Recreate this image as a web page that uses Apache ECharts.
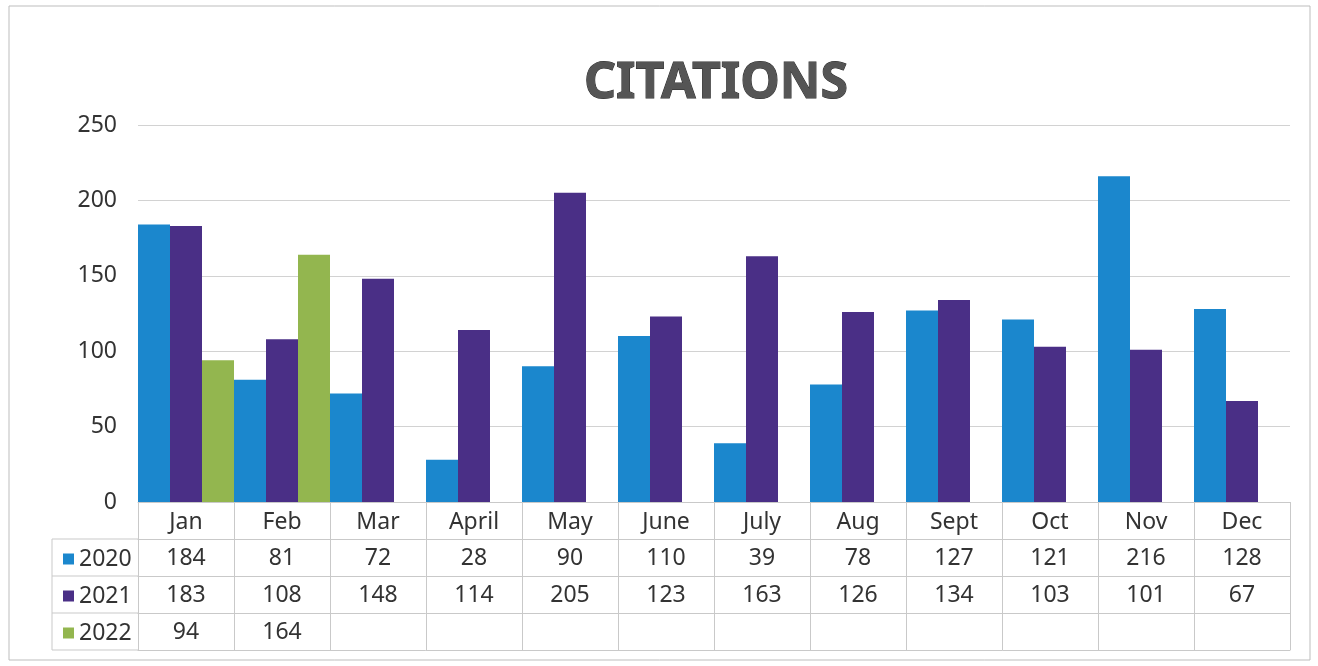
<!DOCTYPE html>
<html>
<head>
<meta charset="utf-8">
<script src="https://cdn.jsdelivr.net/npm/echarts@6/dist/echarts.min.js"></script>
<style>
  html, body { margin: 0; padding: 0; background: #ffffff; }
  #chart { width: 1318px; height: 666px; }
</style>
</head>
<body>
<div id="chart"></div>
<script>
// Monthly citation counts by year
const months = ['Jan', 'Feb', 'Mar', 'April', 'May', 'June', 'July', 'Aug', 'Sept', 'Oct', 'Nov', 'Dec'];
const years = ['2020', '2021', '2022'];
const v2020 = [184, 81, 72, 28, 90, 110, 39, 78, 127, 121, 216, 128];
const v2021 = [183, 108, 148, 114, 205, 123, 163, 126, 134, 103, 101, 67];
const v2022 = [94, 164, null, null, null, null, null, null, null, null, null, null];
const yMin = 0, yMax = 250, yStep = 50;

const colors = ['#1b87cd', '#4a2f86', '#93b64f'];
const seriesValues = [v2020, v2021, v2022];

const FONT = '"Noto Sans", sans-serif';
const TEXT = '#333333';
const LINE = '#c9c9c9';
const ROW = 37;          // data-table row height
const BASE_Y = 502;      // y of the category axis

// one category axis per data-table row: month names, then each year's values
function rowAxis(labels, offset, showTicks, margin) {
  return {
    type: 'category',
    position: 'bottom',
    offset: offset,
    data: labels,
    boundaryGap: true,
    axisLine: { show: true, lineStyle: { color: LINE, width: 1 } },
    axisTick: { show: showTicks, interval: 0, alignWithLabel: false, length: ROW * 4, lineStyle: { color: LINE, width: 1 } },
    axisLabel: { show: true, interval: 0, margin: margin, fontFamily: FONT, fontSize: 23, color: TEXT },
    splitLine: { show: false }
  };
}
const asLabels = arr => arr.map(v => (v == null ? '' : String(v)));

const xAxes = [
  rowAxis(months, 0, true, 9),
  rowAxis(asLabels(v2020), ROW, false, 8),
  rowAxis(asLabels(v2021), ROW * 2, false, 8),
  rowAxis(asLabels(v2022), ROW * 3, false, 8),
  Object.assign(rowAxis(months.map(() => ''), ROW * 4, false, 8), { axisLabel: { show: false } })
];

const chart = echarts.init(document.getElementById('chart'), null, { renderer: 'canvas' });

// frame of the legend column at the left of the data table
const legX0 = 52, legX1 = 138, legY0 = BASE_Y + ROW;
const legendFrame = [];
for (let i = 0; i <= 3; i++) {
  legendFrame.push({
    type: 'line',
    shape: { x1: legX0, y1: legY0 + i * ROW, x2: legX1, y2: legY0 + i * ROW },
    style: { stroke: LINE, lineWidth: 1 }
  });
}
legendFrame.push({
  type: 'line',
  shape: { x1: legX0, y1: legY0, x2: legX0, y2: legY0 + 3 * ROW },
  style: { stroke: LINE, lineWidth: 1 }
});

chart.setOption({
  backgroundColor: '#ffffff',
  animation: false,
  color: colors,
  title: {
    text: 'CITATIONS',
    left: 711,
    top: 54,
    textAlign: 'center',
    textStyle: {
      fontFamily: FONT,
      fontSize: 50,
      fontWeight: 'bold',
      color: '#555555',
      textBorderColor: '#2b2b2b',
      textBorderWidth: 1
    }
  },
  legend: {
    data: years,
    orient: 'vertical',
    left: 58,
    top: BASE_Y + ROW + 3,
    itemWidth: 11,
    itemHeight: 11,
    itemGap: 13,
    icon: 'rect',
    textStyle: { fontFamily: FONT, fontSize: 23, color: TEXT, lineHeight: 24 }
  },
  grid: { left: 138, right: 28, top: 125, bottom: 666 - BASE_Y, containLabel: false },
  xAxis: xAxes,
  yAxis: {
    type: 'value',
    min: yMin,
    max: yMax,
    interval: yStep,
    axisLine: { show: false },
    axisTick: { show: false },
    axisLabel: { margin: 21, fontFamily: FONT, fontSize: 23, color: TEXT },
    splitLine: { show: true, lineStyle: { color: '#d2d2d2', width: 1 } }
  },
  series: years.map((y, i) => ({
    name: y,
    type: 'bar',
    xAxisIndex: 0,
    data: seriesValues[i],
    barGap: '0%',
    barCategoryGap: '0%',
    itemStyle: { color: colors[i] }
  })),
  graphic: [
    {
      type: 'rect',
      shape: { x: 9, y: 6, width: 1301, height: 654 },
      style: { fill: 'none', stroke: '#bdbdbd', lineWidth: 1 },
      z: 0
    }
  ].concat(legendFrame)
});
</script>
</body>
</html>
